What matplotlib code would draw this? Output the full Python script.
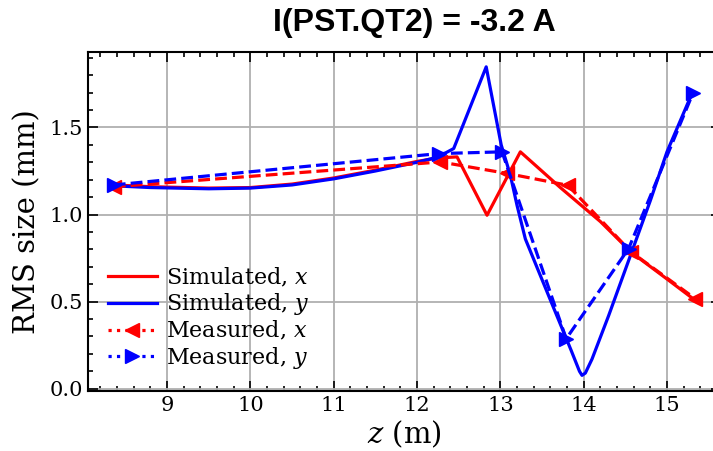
import matplotlib.pyplot as plt
from matplotlib.lines import Line2D
from matplotlib.ticker import MultipleLocator

# Simulated beam sizes along the line
z_sim_x = [8.36, 8.8, 9.5, 10.0, 10.5, 11.0, 11.5, 12.0, 12.25, 12.48,
           12.84, 13.24, 13.72, 14.2, 14.58, 15.0, 15.36]
rms_sim_x = [1.17, 1.16, 1.152, 1.155, 1.175, 1.21, 1.255, 1.305, 1.325, 1.331,
             0.996, 1.36, 1.155, 0.96, 0.78, 0.63, 0.50]

z_sim_y = [8.36, 8.8, 9.5, 10.0, 10.5, 11.0, 11.5, 12.0, 12.25, 12.44,
           12.83, 13.01, 13.12, 13.2, 13.3, 13.6, 13.85, 13.95, 13.98, 14.02,
           14.1, 14.3, 14.57, 14.8, 15.0, 15.3]
rms_sim_y = [1.165, 1.155, 1.148, 1.152, 1.17, 1.205, 1.25, 1.30, 1.33, 1.379,
             1.848, 1.40, 1.226, 1.053, 0.86, 0.51, 0.22, 0.10, 0.077, 0.09,
             0.17, 0.42, 0.776, 1.08, 1.36, 1.695]

# Measured beam sizes at the monitors
z_meas = [8.36, 12.28, 13.08, 13.81, 14.57, 15.34]
rms_meas_x = [1.16, 1.302, 1.236, 1.168, 0.785, 0.517]
z_meas_y = [8.36, 12.26, 13.02, 13.79, 14.54, 15.31]
rms_meas_y = [1.17, 1.35, 1.36, 0.287, 0.805, 1.695]

labels = ['Simulated, $x$', 'Simulated, $y$', 'Measured, $x$', 'Measured, $y$']

plt.rcParams['font.family'] = 'DejaVu Serif'
plt.rcParams['mathtext.fontset'] = 'dejavuserif'

fig = plt.figure(figsize=(7.13, 4.51), dpi=100)
ax = fig.add_axes([0.1234, 0.133, 0.888, 0.7524])

lw = 2.3
ax.plot(z_sim_x, rms_sim_x, color='r', lw=lw)
ax.plot(z_sim_y, rms_sim_y, color='b', lw=lw)
ax.plot(z_meas, rms_meas_x, color='r', lw=lw, ls='--', marker='<', ms=10)
ax.plot(z_meas_y, rms_meas_y, color='b', lw=lw, ls='--', marker='>', ms=10)

ax.set_xlim(8.05, 15.65)
ax.set_ylim(-0.013, 1.935)
ax.xaxis.set_major_locator(MultipleLocator(1))
ax.xaxis.set_minor_locator(MultipleLocator(0.2))
ax.yaxis.set_major_locator(MultipleLocator(0.5))
ax.yaxis.set_minor_locator(MultipleLocator(0.1))
ax.tick_params(which='both', direction='in', top=True, right=True,
               labelsize=15, width=1.2)
ax.tick_params(which='major', length=7)
ax.tick_params(which='minor', length=3.5)
ax.grid(True, color='#b0b0b0', lw=1.3)
for s in ax.spines.values():
    s.set_linewidth(1.5)

ax.set_xlabel('$z$ (m)', fontsize=21, labelpad=3)
ax.set_ylabel('RMS size (mm)', fontsize=21, labelpad=6)

# legend: dotted proxies for the measured series
handles = [
    Line2D([], [], color='r', lw=lw),
    Line2D([], [], color='b', lw=lw),
    Line2D([], [], color='r', lw=lw, ls=':', marker='<', ms=10),
    Line2D([], [], color='b', lw=lw, ls=':', marker='>', ms=10),
]
ax.legend(handles, labels, loc='lower left', fontsize=16, frameon=False,
          numpoints=1, handlelength=2.2, labelspacing=0.1,
          borderaxespad=0.5, handletextpad=0.4)

fig.text(414 / 713, 1 - 30.7 / 451, 'I(PST.QT2) = -3.2 A', ha='center',
         va='baseline', fontsize=23, fontweight='bold', family='Liberation Sans')

fig.savefig('out.png', dpi=100)
